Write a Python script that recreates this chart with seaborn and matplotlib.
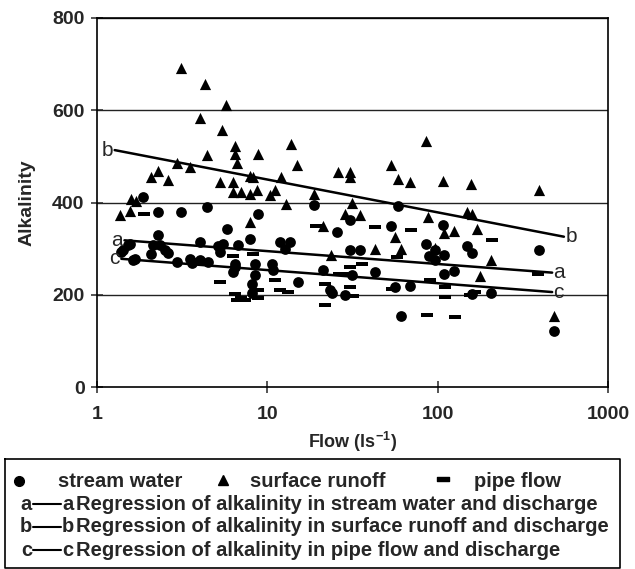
import numpy as np
import pandas as pd
import matplotlib
matplotlib.use("Agg")
import matplotlib.pyplot as plt
from matplotlib.path import Path
import seaborn as sns

# stream water (circles)
stream_flow = [1.39, 1.42, 1.52, 1.56, 1.63, 1.67, 1.85, 2.08, 2.14, 2.28, 2.28, 2.34, 2.5, 2.61,
               2.93, 3.13, 3.5, 3.6, 4.0, 4.0, 4.4, 4.5, 5.15, 5.27, 5.5, 5.76, 6.3, 6.45, 6.45,
               6.76, 7.9, 8.1, 8.1, 8.44, 8.44, 8.85, 10.6, 10.8, 11.9, 12.7, 13.6, 15.2, 18.7,
               21.3, 23.4, 23.9, 25.5, 28.6, 30.6, 30.6, 31.6, 35.2, 43, 53.3, 56.3, 58.4, 61.3,
               69, 85, 89, 97, 97, 109, 108.7, 107, 124, 149, 159, 159, 207, 391, 480]
stream_alk = [293, 296, 307, 311, 275, 278, 413, 289, 307, 329, 379, 307, 296, 290,
              271, 379, 278, 269, 315, 275, 390, 271, 305, 293, 311, 343, 249, 267, 260,
              307, 320, 224, 203, 267, 242, 374, 267, 253, 314, 300, 314, 228, 394,
              253, 210, 203, 336, 199, 361, 296, 242, 298, 249, 350, 216, 393, 155,
              219, 310, 284, 298, 276, 287, 246, 352, 252, 305, 290, 202, 204, 298, 122]

# surface runoff (triangles)
runoff_flow = [1.37, 1.57, 1.59, 1.70, 2.08, 2.28, 2.6, 2.93, 3.12, 3.5, 4.02, 4.3, 4.4, 5.27,
               5.41, 5.74, 6.3, 6.3, 6.45, 6.45, 6.6, 7.05, 7.9, 7.9, 7.9, 8.25, 8.65, 8.85,
               10.4, 11.1, 12.1, 12.9, 13.8, 14.9, 18.7, 21.3, 23.6, 26.1, 28.6, 30.6, 30.6,
               31.4, 35.2, 43, 53.4, 56.3, 58.5, 61.2, 69, 85, 88.3, 96.5, 108, 108.7, 124,
               149, 156, 159, 170, 178, 207, 391, 480]
runoff_alk = [373, 381, 408, 404, 455, 468, 449, 486, 692, 476, 584, 657, 504, 444,
              558, 612, 444, 422, 522, 505, 485, 422, 419, 458, 358, 456, 427, 505,
              416, 427, 455, 396, 527, 482, 419, 349, 287, 466, 374, 466, 456,
              400, 372, 300, 481, 326, 450, 300, 444, 534, 368, 301, 447, 333, 339,
              379, 441, 376, 343, 240, 276, 427, 153]

# pipe flow (dashes)
pipe_flow = [1.88, 3.8, 5.27, 6.3, 6.45, 6.6, 7.05, 7.4, 8.25, 8.85, 8.85, 11.1, 11.9, 13.3,
             19.2, 21.8, 21.8, 26.5, 28.6, 30.6, 30.6, 32, 35.8, 43, 53.8, 57.5, 70, 87, 90,
             111, 111, 127, 155, 166, 208, 388]
pipe_alk = [374, 276, 228, 283, 202, 188, 192, 188, 289, 192, 210, 231, 210, 206,
            348, 224, 177, 246, 246, 217, 260, 197, 266, 346, 213, 281, 340, 156, 232,
            216, 195, 151, 199, 206, 318, 245]

# regression lines: label, intercept, slope per decade, flow range
reg_labels = ["a", "b", "c"]
reg_intercept = [322.5, 521.0, 282.0]
reg_slope = [-27.9, -71.2, -28.5]
reg_xmin = [1.45, 1.27, 1.39]
reg_xmax = [470, 551, 470]

legend_rows = ["Regression of alkalinity in stream water and discharge",
               "Regression of alkalinity in surface runoff and discharge",
               "Regression of alkalinity in pipe flow and discharge"]

df = pd.DataFrame({
    "flow": stream_flow + runoff_flow + pipe_flow,
    "alkalinity": stream_alk + runoff_alk + pipe_alk,
    "source": ["stream water"] * len(stream_flow) + ["surface runoff"] * len(runoff_flow)
              + ["pipe flow"] * len(pipe_flow),
})

sns.set_style("ticks")
plt.rcParams["font.family"] = ["Liberation Sans", "DejaVu Sans"]
plt.rcParams["mathtext.default"] = "regular"

dash = Path([(-1, -0.38), (1, -0.38), (1, 0.38), (-1, 0.38), (-1, -0.38)],
            [Path.MOVETO, Path.LINETO, Path.LINETO, Path.LINETO, Path.CLOSEPOLY])
markers = {"stream water": "o", "surface runoff": "^", "pipe flow": dash}
sizes = {"stream water": 60, "surface runoff": 65, "pipe flow": 75}

fig = plt.figure(figsize=(6.35, 5.69), dpi=100)
ax = fig.add_axes([97 / 635, 1 - 387 / 569, (608 - 97) / 635, (387 - 18) / 569])

for src in ["stream water", "surface runoff", "pipe flow"]:
    sns.scatterplot(data=df[df.source == src], x="flow", y="alkalinity", marker=markers[src],
                    s=sizes[src], color="black", edgecolor="black", linewidth=0, ax=ax,
                    zorder=3)

ax.set_xscale("log")
ax.set_xlim(1, 1000)
ax.set_ylim(0, 800)
ax.set_xticks([1, 10, 100, 1000])
ax.set_xticklabels(["1", "10", "100", "1000"])
ax.xaxis.set_minor_locator(matplotlib.ticker.NullLocator())
ax.set_yticks([0, 200, 400, 600, 800])
for yv in [200, 400, 600, 800]:
    ax.axhline(yv, color="#222222", lw=1.0, zorder=1)

for lbl, b0, b1, x0, x1 in zip(reg_labels, reg_intercept, reg_slope, reg_xmin, reg_xmax):
    xs = np.array([x0, x1])
    ys = b0 + b1 * np.log10(xs)
    ax.plot(xs, ys, color="black", lw=1.8, zorder=4)
    ax.annotate(lbl, (x0, ys[0]), xytext=(-1, 0), textcoords="offset points",
                ha="right", va="center", fontsize=15)
    ax.annotate(lbl, (x1, ys[1]), xytext=(1, 0), textcoords="offset points",
                ha="left", va="center", fontsize=15)

for sp in ax.spines.values():
    sp.set_linewidth(1.2)
    sp.set_color("black")
ax.tick_params(direction="inout", length=8, width=1.1, labelsize=14)
ax.tick_params(axis="x", pad=10)
ax.tick_params(axis="y", pad=5)
ax.set_xlabel("Flow (ls$^{-1}$)", fontsize=13, fontweight="bold")
ax.set_ylabel("Alkalinity", fontsize=14, fontweight="bold")
ax.xaxis.set_label_coords(0.5, -0.117)
ax.yaxis.set_label_coords(-0.12, 0.5)
for t in ax.get_xticklabels() + ax.get_yticklabels():
    t.set_fontweight("bold")

# legend box below the plot
lax = fig.add_axes([0, 0, 1, 1])
lax.set_xlim(0, 635)
lax.set_ylim(569, 0)
lax.axis("off")
lax.patch.set_visible(False)
lax.plot([5, 620, 620, 5, 5], [459, 459, 568, 568, 459], color="black", lw=1.2)
fs = 14.5
y1 = 481
lax.plot([19], [y1], marker="o", color="black", ms=7)
lax.text(58, y1, "stream water", fontsize=fs, va="center", fontweight="bold")
lax.plot([223], [y1 - 1], marker="^", color="black", ms=7)
lax.text(250, y1, "surface runoff", fontsize=fs, va="center", fontweight="bold")
lax.plot([443], [y1 - 2], marker=dash, color="black", ms=8)
lax.text(474, y1, "pipe flow", fontsize=fs, va="center", fontweight="bold")
for i, (lbl, txt) in enumerate(zip(reg_labels, legend_rows)):
    yy = y1 + 23 * (i + 1)
    lax.text(32, yy, lbl, fontsize=fs, va="center", ha="right", fontweight="bold")
    lax.plot([33, 61], [yy, yy], color="black", lw=1.5)
    lax.text(62, yy, lbl, fontsize=fs, va="center", ha="left", fontweight="bold")
    lax.text(76, yy, txt, fontsize=fs, va="center", ha="left", fontweight="bold")

fig.savefig("out.png", dpi=100)
